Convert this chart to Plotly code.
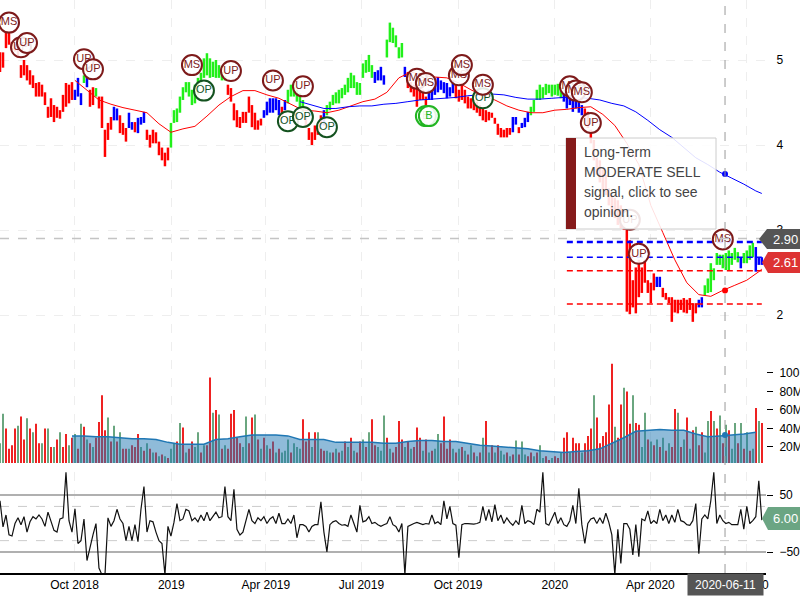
"""
Stock chart with price bars, signals, volume and an oscillator panel.
"""
import pandas as pd
import plotly.graph_objects as go
from plotly.subplots import make_subplots

# Price bars, one pair per sampled date
price_high = [5.09, 5.09, 5.32, 5.32, 5.21, 5.19, 5.14, 4.94, 5.00, 4.94,
              4.88, 4.82, 4.73, 4.74, 4.71, 4.62, 4.45, 4.55, 4.47, 4.45,
              4.41, 4.59, 4.73, 4.71, 4.74, 4.65, 4.79, 4.61, 4.82, 4.80,
              4.65, 4.68, 4.67, 4.57, 4.57, 4.18, 4.26, 4.33, 4.45, 4.43,
              4.35, 4.26, 4.20, 4.38, 4.27, 4.27, 4.32, 4.33, 4.39, 4.18,
              4.12, 4.18, 4.15, 4.04, 3.97, 3.91, 3.97, 4.26, 4.41, 4.43,
              4.57, 4.68, 4.74, 4.74, 4.65, 4.71, 4.79, 4.85, 5.02, 5.08,
              5.02, 4.98, 5.00, 4.94, 4.86, 4.81, 4.71, 4.67, 4.49, 4.41,
              4.33, 4.39, 4.39, 4.57, 4.47, 4.38, 4.29, 4.31, 4.41, 4.51,
              4.55, 4.55, 4.55, 4.53, 4.45, 4.53, 4.65, 4.71, 4.71, 4.65,
              4.61, 4.53, 4.33, 4.20, 4.15, 4.23, 4.23, 4.35, 4.41, 4.47,
              4.51, 4.59, 4.62, 4.65, 4.67, 4.71, 4.79, 4.85, 4.82, 4.74,
              4.73, 4.96, 5.00, 5.06, 4.94, 4.86, 4.88, 4.92, 4.82, 5.24,
              5.44, 5.38, 5.29, 5.15, 5.20, 4.92, 4.86, 4.74, 4.71, 4.67,
              4.65, 4.65, 4.57, 4.65, 4.65, 4.74, 4.80, 4.76, 4.74, 4.73,
              4.68, 4.76, 4.71, 4.65, 4.73, 4.65, 4.57, 4.55, 4.53, 4.51,
              4.47, 4.43, 4.41, 4.39, 4.38, 4.32, 4.25, 4.20, 4.18, 4.20,
              4.20, 4.33, 4.33, 4.21, 4.26, 4.32, 4.39, 4.45, 4.53, 4.65,
              4.71, 4.68, 4.72, 4.71, 4.71, 4.71, 4.72, 4.67, 4.62, 4.57,
              4.59, 4.53, 4.55, 4.53, 4.47, 4.43, 4.39, 4.18, 4.06, 3.85,
              3.82, 3.71, 3.65, 3.49, 3.41, 3.38, 3.35, 3.29, 3.21, 3.02,
              2.88, 2.41, 2.56, 2.65, 2.56, 2.65, 2.41, 2.38, 2.49, 2.45,
              2.45, 2.32, 2.26, 2.21, 2.21, 2.18, 2.18, 2.18, 2.20, 2.18,
              2.20, 2.14, 2.14, 2.18, 2.21, 2.35, 2.43, 2.61, 2.55, 2.73,
              2.71, 2.71, 2.73, 2.76, 2.73, 2.79, 2.74, 2.68, 2.73, 2.76,
              2.82, 2.85, 2.80, 2.68, 2.68]
price_low = [4.86, 4.91, 5.14, 5.18, 5.12, 5.10, 5.03, 4.79, 4.82, 4.76,
             4.71, 4.67, 4.57, 4.57, 4.57, 4.47, 4.32, 4.33, 4.27, 4.32,
             4.31, 4.39, 4.45, 4.49, 4.53, 4.53, 4.57, 4.47, 4.73, 4.68,
             4.45, 4.47, 4.57, 4.43, 4.20, 3.86, 4.06, 4.18, 4.29, 4.29,
             4.14, 4.12, 4.04, 4.20, 4.18, 4.15, 4.14, 4.24, 4.26, 4.06,
             3.97, 4.02, 4.02, 3.88, 3.82, 3.75, 3.82, 3.97, 4.26, 4.27,
             4.38, 4.53, 4.62, 4.57, 4.47, 4.49, 4.59, 4.71, 4.79, 4.82,
             4.79, 4.80, 4.79, 4.79, 4.76, 4.76, 4.59, 4.51, 4.29, 4.21,
             4.20, 4.26, 4.26, 4.38, 4.21, 4.18, 4.18, 4.23, 4.32, 4.35,
             4.38, 4.38, 4.41, 4.35, 4.35, 4.41, 4.49, 4.57, 4.57, 4.51,
             4.45, 4.39, 4.21, 4.06, 4.00, 4.06, 4.12, 4.23, 4.23, 4.35,
             4.41, 4.47, 4.49, 4.49, 4.55, 4.59, 4.62, 4.67, 4.67, 4.59,
             4.59, 4.79, 4.85, 4.86, 4.79, 4.73, 4.76, 4.76, 4.71, 5.03,
             5.21, 5.20, 5.15, 5.02, 5.03, 4.80, 4.67, 4.62, 4.57, 4.45,
             4.53, 4.53, 4.45, 4.53, 4.53, 4.59, 4.62, 4.65, 4.61, 4.55,
             4.57, 4.61, 4.55, 4.51, 4.53, 4.49, 4.43, 4.43, 4.41, 4.38,
             4.34, 4.29, 4.27, 4.29, 4.32, 4.25, 4.12, 4.09, 4.09, 4.09,
             4.12, 4.15, 4.24, 4.14, 4.20, 4.21, 4.27, 4.35, 4.39, 4.53,
             4.53, 4.55, 4.59, 4.61, 4.57, 4.59, 4.58, 4.55, 4.51, 4.43,
             4.47, 4.39, 4.43, 4.38, 4.35, 4.32, 4.20, 4.02, 3.82, 3.65,
             3.56, 3.47, 3.41, 3.29, 3.18, 3.14, 3.06, 3.02, 3.00, 2.04,
             2.01, 2.09, 2.02, 2.21, 2.26, 2.38, 2.26, 2.14, 2.29, 2.33,
             2.33, 2.21, 2.18, 2.14, 1.92, 2.03, 2.02, 2.06, 2.03, 2.02,
             2.06, 1.92, 2.02, 2.09, 2.09, 2.23, 2.26, 2.27, 2.41, 2.59,
             2.59, 2.55, 2.53, 2.53, 2.59, 2.65, 2.62, 2.55, 2.61, 2.61,
             2.65, 2.68, 2.51, 2.59, 2.59]
price_trend = (["r"] * 25 + ["b"] * 3 + ["g"] + ["b"] + ["r"] * 2 + ["g"] + ["r"] * 5
               + ["b"] * 2 + ["r"] * 3 + ["b"] * 2 + ["r"] + ["b"] * 3 + ["r"] * 8
               + ["g"] * 19 + ["r"] * 12 + ["b"] * 6 + ["r"] + ["b"] + ["g"] * 6
               + ["r"] * 6 + ["b"] + ["g"] * 16 + ["b"] * 4 + ["g"] * 6 + ["b"]
               + ["r"] * 7 + ["b"] * 9 + ["r"] * 19 + ["b"] * 2 + ["r"] + ["b"] * 3
               + ["g"] * 11 + ["b"] * 7 + ["r"] * 24 + ["b"] * 2 + ["r"] * 12
               + ["b"] * 2 + ["g"] * 12 + ["b"] + ["g"] * 4 + ["b"] * 3)

# Moving averages, read at every fourth bar plus the last one
short_ma = [4.76, 4.65, 4.53, 4.48, 4.44, 4.41, 4.38, 4.25, 4.15, 4.19,
            4.22, 4.34, 4.47, 4.57, 4.64, 4.64, 4.59, 4.55, 4.48, 4.41,
            4.40, 4.38, 4.41, 4.46, 4.51, 4.54, 4.62, 4.79, 4.86, 4.82,
            4.80, 4.79, 4.73, 4.65, 4.58, 4.53, 4.46, 4.41, 4.38, 4.38,
            4.41, 4.42, 4.44, 4.45, 4.36, 4.23, 4.02, 3.77, 3.29, 2.97,
            2.65, 2.38, 2.24, 2.22, 2.29, 2.35, 2.41, 2.51, 2.54]
long_ma = [4.51, 4.47, 4.43, 4.43, 4.45, 4.46, 4.46, 4.48, 4.49, 4.51,
           4.53, 4.54, 4.55, 4.56, 4.58, 4.59, 4.60, 4.59, 4.56, 4.54,
           4.54, 4.55, 4.56, 4.56, 4.55, 4.53, 4.49, 4.46, 4.39, 4.29,
           4.18, 4.09, 3.97, 3.85, 3.77, 3.68, 3.61, 3.54, 3.46, 3.43]

# Signal bubbles on the price panel
signal_bar = [3, 7, 9, 28, 31, 64, 68, 77, 91, 101, 96, 101, 109, 139, 142,
              142, 143, 153, 161, 154, 161, 190, 192, 194, 197, 210, 213, 241]
signal_price = [5.44, 5.15, 5.20, 5.01, 4.89, 4.94, 4.64, 4.87, 4.76, 4.69, 4.28, 4.33,
                4.21, 4.78, 4.73, 4.34, 4.34, 4.82, 4.55, 4.94, 4.71, 4.69, 4.64, 4.62,
                4.26, 3.12, 2.72, 2.89]
signal_label = ["MS", "UP", "UP", "UP", "UP", "MS", "OP", "UP", "UP", "UP", "OP", "OP",
                "OP", "MS", "MS", "B", "B", "MS", "OP", "MS", "MS", "MS", "MS", "MS",
                "UP", "UP", "UP", "MS"]

# Support and resistance levels on the right
level_strong = 2.86
level_resist = 2.68
level_support = [2.52, 2.13]

# Volume in millions
volume = [24, 56, 40, 18, 22, 40, 43, 53, 28, 51,
          40, 36, 45, 24, 24, 40, 40, 20, 20, 28,
          36, 20, 34, 22, 30, 34, 18, 45, 42, 28,
          24, 20, 30, 47, 76, 38, 52, 26, 43, 26,
          36, 18, 18, 18, 22, 20, 34, 20, 16, 24,
          18, 14, 14, 10, 12, 10, 8, 18, 24, 26,
          46, 41, 14, 18, 26, 20, 36, 14, 22, 22,
          95, 57, 60, 55, 18, 22, 18, 56, 60, 30,
          24, 20, 53, 24, 52, 55, 28, 18, 30, 22,
          18, 26, 14, 18, 14, 16, 28, 14, 24, 20,
          18, 50, 26, 36, 20, 36, 36, 18, 16, 16,
          14, 14, 18, 14, 16, 26, 20, 30, 16, 14,
          26, 28, 20, 36, 50, 22, 20, 16, 54, 30,
          18, 14, 20, 48, 28, 20, 26, 18, 20, 41,
          30, 16, 28, 14, 16, 18, 34, 24, 53, 18,
          28, 18, 14, 18, 20, 16, 12, 22, 14, 10,
          14, 30, 48, 14, 22, 14, 22, 16, 12, 14,
          10, 12, 27, 12, 26, 12, 10, 14, 10, 14,
          22, 8, 10, 6, 8, 10, 8, 14, 30, 36,
          14, 30, 24, 24, 14, 24, 32, 40, 76, 52,
          24, 32, 36, 66, 110, 42, 30, 66, 84, 80,
          45, 76, 46, 44, 20, 57, 28, 26, 22, 28,
          20, 30, 16, 24, 20, 61, 57, 20, 28, 52,
          18, 38, 42, 22, 36, 14, 48, 59, 48, 40,
          54, 24, 44, 38, 18, 46, 24, 46, 18, 36,
          16, 18, 62, 48, 46]
volume_dir = ("ggrrrrgrrg" "rgrrgrgrgr" "grrgrgrgrg" "rgrrrrgrgr" "grrgrrrgrg"
              "rgrgrgrggr" "grgrrggrgr" "rgrgrgrrrr" "rggrrgrgrg" "rrgrgggrgg"
              "grrrgrgrrg" "grgrgrgrgr" "rgrgrrgggr" "grrrrgrgrr" "rgrgrggrrr"
              "rgrgrgrgrg" "rgrgrgrggr" "grgrggrrgr" "ggrrgrrgrr" "grrrgrrrgr"
              "rrrrrgrrgr" "rgrrggrgrg" "rgrgrrgrgr" "grgrrggrgr" "grgrggrgrg"
              "rgrgr")
volume_ma = [32, 32, 31, 31, 30, 29, 29, 28, 25, 23, 23, 23, 28, 29, 31, 33, 33, 33, 32, 28,
             28, 28, 25, 25, 25, 25, 24, 24, 26, 27, 27, 26, 26, 24, 22, 21, 20, 19, 18, 16,
             15, 14, 15, 16, 18, 24, 30, 37, 38, 39, 38, 38, 34, 31, 32, 33, 34, 36]

oscillator = [40, -6, 15, -20, -22, 0, 10, -2, 12, -15,
              3, 12, 8, 15, 8, -5, 20, 5, -12, -15,
              8, 10, 90, 5, -15, 26, -35, -30, 8, -65,
              -40, -20, 0, -78, -90, -90, 10, -5, 5, 25,
              8, 0, -30, -5, -30, -2, -32, 25, 65, -15,
              5, 3, -15, -30, -35, -90, -5, -22, 2, 35,
              5, 8, 25, 22, 5, 10, 3, 15, 5, 20,
              5, 12, 20, 10, 12, 65, 12, 5, 60, -10,
              -20, -15, 5, 25, 5, 0, 10, 5, 12, 0,
              8, 12, 0, 18, 0, 0, 8, 0, 15, -25,
              -2, -2, -5, -15, -5, -2, -2, 38, -15, -50,
              -2, 3, 5, 0, -3, -2, -5, 15, 0, -15,
              32, 3, 5, 12, 0, 2, -2, -5, -2, 0,
              12, -2, -5, -15, 0, -90, -5, -2, 0, 2,
              0, -2, 0, -1, 15, 0, 3, -2, 40, 8,
              30, 0, -3, -60, -2, 0, 0, -1, -1, 0,
              2, 30, 5, 25, 3, 33, 5, 15, 0, 10,
              2, -3, 5, -2, 32, 0, 5, 3, -2, 25,
              20, 90, 0, -3, 8, 20, 0, 10, -2, -5,
              5, 32, 0, 62, -2, -35, 0, 8, 10, 0,
              10, 0, 18, 2, -20, -90, -10, -70, 0, 0,
              -10, -55, -2, -58, 8, 5, 22, 0, 5, 0,
              25, 5, 15, 0, 15, 2, 25, 5, 3, -2,
              -3, 5, 35, -53, 8, 15, 8, 40, 90, 0,
              15, 5, 0, 2, -2, -2, -2, 25, -10, 30,
              0, 5, 12, 75, 6]

date_ticks = ["2018-10-01", "2019-01-01", "2019-04-01", "2019-07-01",
              "2019-10-01", "2020-01-01", "2020-04-01", "2020-07-01"]
date_labels = ["Oct 2018", "2019", "Apr 2019", "Jul 2019",
               "Oct 2019", "2020", "Apr 2020", "Jul 2020"]
volume_ticks = [20, 40, 60, 80, 100]
volume_tick_labels = ["20M", "40M", "60M", "80M", "100M"]
price_ticks = [2, 3, 4, 5]
oscillator_ticks = [-50, 50]
cursor_date = "2020-06-11"
cursor_short_ma = 2.29
cursor_long_ma = 3.66
cursor_volume_ma = 33
last_price = 2.61
cursor_price = 2.90
opinion_lines = ["Long-Term", "MODERATE SELL", "signal, click to see", "opinion."]

TREND_COLORS = {"r": "#ff0000", "g": "#22f01a", "b": "#0000ff"}
VOLUME_COLORS = {"r": "#ee2222", "g": "#6aa67f"}
SIGNAL_COLORS = {"MS": "#7d1a1a", "UP": "#7d1a1a", "OP": "#14521f", "B": "#22b522"}
FONT = "Liberation Sans"

# Pixel size of the plot area, used to place the overlay boxes
PLOT_W = 766
PLOT_H = 573


def px(x):
    return x / PLOT_W


def py(y):
    return 1 - y / PLOT_H


bar_dates = pd.date_range("2018-07-22", "2020-07-16", periods=len(price_high))

fig = make_subplots(rows=3, cols=1, shared_xaxes=True)

# Price panel
fig.add_trace(go.Bar(
    x=bar_dates,
    y=[h - l for h, l in zip(price_high, price_low)],
    base=price_low,
    width=205000000,
    marker=dict(color=[TREND_COLORS[t] for t in price_trend], line_width=0),
), row=1, col=1)
fig.add_trace(go.Scatter(
    x=bar_dates[list(range(25, 254, 4)) + [254]], y=short_ma, mode="lines",
    line=dict(color="#ff0000", width=1),
), row=1, col=1)
fig.add_trace(go.Scatter(
    x=bar_dates[list(range(100, 253, 4)) + [254]], y=long_ma, mode="lines",
    line=dict(color="#0000ff", width=1),
), row=1, col=1)

# Support and resistance levels
level_dates = [bar_dates[189], bar_dates[-1]]
fig.add_trace(go.Scatter(
    x=level_dates, y=[level_strong] * 2, mode="lines",
    line=dict(color="#0000ff", width=2.5, dash="6px,4px"),
), row=1, col=1)
fig.add_trace(go.Scatter(
    x=level_dates, y=[level_resist] * 2, mode="lines",
    line=dict(color="#0000ff", width=1.5, dash="6px,4px"),
), row=1, col=1)
for level in level_support:
    fig.add_trace(go.Scatter(
        x=level_dates, y=[level] * 2, mode="lines",
        line=dict(color="#ff0000", width=1.5, dash="6px,4px"),
    ), row=1, col=1)

# One trace per bubble so that later ones cover earlier ones
for bar, price, label in zip(signal_bar, signal_price, signal_label):
    fig.add_trace(go.Scatter(
        x=[bar_dates[bar]], y=[price], mode="markers+text",
        text=[label], textposition="middle center",
        textfont=dict(family=FONT, size=11, color=SIGNAL_COLORS[label]),
        marker=dict(size=20, color="rgba(255,255,255,0.88)",
                    line=dict(color=SIGNAL_COLORS[label], width=2)),
    ), row=1, col=1)

# Dots where the cursor crosses the averages
fig.add_trace(go.Scatter(
    x=[cursor_date, cursor_date], y=[cursor_long_ma, cursor_short_ma], mode="markers",
    marker=dict(size=6, color=["#0000ff", "#ff0000"]),
), row=1, col=1)

# Volume panel
fig.add_trace(go.Bar(
    x=bar_dates, y=volume, width=100000000,
    marker=dict(color=[VOLUME_COLORS[d] for d in volume_dir], line_width=0),
), row=2, col=1)
fig.add_trace(go.Scatter(
    x=bar_dates[24:253:4], y=volume_ma, mode="lines", fill="tozeroy",
    line=dict(color="#1f77b4", width=1.5),
    fillcolor="rgba(31,119,180,0.5)",
), row=2, col=1)
fig.add_trace(go.Scatter(
    x=[cursor_date], y=[cursor_volume_ma], mode="markers",
    marker=dict(size=6, color="#1f77b4"),
), row=2, col=1)

# Oscillator panel
fig.add_trace(go.Scatter(
    x=bar_dates, y=oscillator, mode="lines",
    line=dict(color="#111111", width=1.2),
), row=3, col=1)

grid = dict(showgrid=True, gridcolor="#eeeeee", griddash="dash", gridwidth=1)
fig.update_xaxes(
    type="date", range=["2018-07-22", "2020-07-20"], automargin=False,
    tickvals=date_ticks, ticktext=date_labels, ticks="", zeroline=False,
    tickfont=dict(family=FONT, size=12, color="#000000"), **grid,
)
fig.update_xaxes(showline=True, linecolor="#000000", linewidth=2, row=3, col=1)

tick_font = dict(family=FONT, size=12, color="#000000")
fig.update_yaxes(
    side="right", domain=[py(355), 1], range=[1.53, 5.706], automargin=False,
    tickvals=price_ticks, ticks="outside", ticklen=7, tickcolor="#ffffff",
    tickfont=tick_font, zeroline=False, **grid, row=1, col=1,
)
fig.update_yaxes(
    side="right", domain=[py(463), py(360)], range=[2.7, 114], automargin=False,
    tickvals=volume_ticks, ticktext=volume_tick_labels,
    ticks="outside", ticklen=6, tickcolor="#000000", ticklabelstandoff=4,
    tickfont=tick_font, zeroline=False, showgrid=False, row=2, col=1,
)
fig.update_yaxes(
    side="right", domain=[0, py(472)], range=[-86.8, 90.4], automargin=False,
    tickvals=oscillator_ticks, ticks="outside", ticklen=6, tickcolor="#000000", ticklabelstandoff=4,
    tickfont=tick_font, zeroline=False, showgrid=True, gridcolor="#b0b0b0", gridwidth=2,
    row=3, col=1,
)

shapes = [
    # Oscillator guides
    dict(type="line", xref="paper", yref="y3", x0=0, x1=1, y0=30, y1=30,
         layer="below", line=dict(color="#cccccc", width=1, dash="dash")),
    dict(type="line", xref="paper", yref="y3", x0=0, x1=1, y0=-30, y1=-30,
         layer="below", line=dict(color="#cccccc", width=1, dash="dash")),
    # Cursor
    dict(type="line", xref="x", yref="paper", x0=cursor_date, x1=cursor_date, y0=0, y1=1,
         line=dict(color="#999999", width=1, dash="dash")),
    dict(type="line", xref="paper", yref="y", x0=0, x1=px(760), y0=cursor_price, y1=cursor_price,
         line=dict(color="#c4c4c4", width=1.5, dash="dash")),
    # Opinion box
    dict(type="rect", xref="paper", yref="paper", x0=px(566), x1=px(716), y0=py(229), y1=py(138),
         fillcolor="rgba(255,255,255,0.88)", line=dict(color="#cccccc", width=1)),
    dict(type="rect", xref="paper", yref="paper", x0=px(566), x1=px(576), y0=py(229), y1=py(138),
         fillcolor="#851a1a", line_width=0),
]


def tag_path(tip, left, top, bottom):
    mid = (top + bottom) / 2
    return (f"M {px(tip)} {py(mid)} L {px(left)} {py(top)} L {px(800)} {py(top)} "
            f"L {px(800)} {py(bottom)} L {px(left)} {py(bottom)} Z")


annotations = []
for tip, left, top, bottom, color, text in [
    (759, 767, 229, 249, "#555555", f"{cursor_price:.2f}"),
    (762, 768, 252, 273, "#dd3333", f"{last_price:.2f}"),
    (762, 768, 507, 530, "#6ba583", "6.00"),
]:
    shapes.append(dict(type="path", xref="paper", yref="paper", path=tag_path(tip, left, top, bottom),
                       fillcolor=color, line_width=0))
    annotations.append(dict(xref="paper", yref="paper", x=px(785), y=py((top + bottom) / 2),
                            text=text, showarrow=False, xanchor="center", yanchor="middle",
                            font=dict(family=FONT, size=13, color="#ffffff")))

for i, line in enumerate(opinion_lines):
    annotations.append(dict(xref="paper", yref="paper", x=px(582), y=py(152 + i * 20),
                            text=line, showarrow=False, xanchor="left", yanchor="middle",
                            font=dict(family=FONT, size=14, color="#444444")))

# Date flag under the cursor
annotations.append(dict(xref="paper", yref="paper", x=px(725), y=py(584),
                        text=cursor_date, showarrow=False, xanchor="center", yanchor="middle",
                        width=73, height=19, bgcolor="#555555",
                        font=dict(family=FONT, size=12, color="#ffffff")))

fig.update_layout(
    width=800,
    height=600,
    margin=dict(l=0, r=34, t=0, b=27),
    plot_bgcolor="#ffffff",
    paper_bgcolor="#ffffff",
    showlegend=False,
    shapes=shapes,
    annotations=annotations,
)

# The page body has a default margin, the chart should sit at the window corner
fig.write_html("out.html", config={"displayModeBar": False},
               post_script="document.body.style.margin = '0';")
